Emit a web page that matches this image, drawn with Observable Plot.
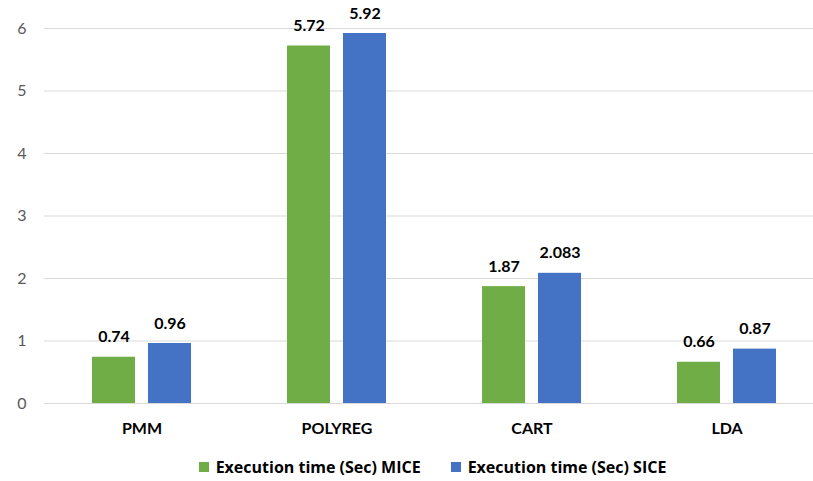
<!DOCTYPE html>
<html>
<head>
<meta charset="utf-8">
<script src="https://cdn.jsdelivr.net/npm/d3@7"></script>
<script src="https://cdn.jsdelivr.net/npm/@observablehq/plot@0.6"></script>
<style>
  html, body { margin: 0; padding: 0; background: #fff; }
  body { width: 813px; height: 481px; overflow: hidden; font-family: Lato, "Open Sans", sans-serif; }
  #legend { display: flex; justify-content: center; gap: 30px; margin-top: 8px; padding-left: 52px; font-family: "Open Sans", sans-serif; font-weight: bold; font-size: 16px; color: #000; }
  #legend .item { display: flex; align-items: center; gap: 7px; }
  #legend .sw { width: 10px; height: 10px; display: inline-block; }
</style>
</head>
<body>
<div id="chart"></div>
<div id="legend"></div>
<script>
const categories = ["PMM", "POLYREG", "CART", "LDA"];
const seriesNames = ["Execution time (Sec) MICE", "Execution time (Sec) SICE"];
const miceValues = [0.74, 5.72, 1.87, 0.66];
const siceValues = [0.96, 5.92, 2.083, 0.87];
const yTicks = [0, 1, 2, 3, 4, 5, 6];
const colors = ["#70AD47", "#4472C4"];

const data = categories.flatMap((c, i) => [
  {cat: c, series: seriesNames[0], value: miceValues[i]},
  {cat: c, series: seriesNames[1], value: siceValues[i]}
]);

const chart = Plot.plot({
  width: 813,
  height: 448,
  marginLeft: 44,
  marginRight: -11,
  marginTop: 28,
  marginBottom: 45,
  style: {fontFamily: "Lato, 'Open Sans', sans-serif", fontSize: "15px", background: "#fff"},
  fx: {domain: categories, padding: 0, label: null, axis: null},
  x: {domain: seriesNames, paddingInner: 0.23, paddingOuter: 0.85, axis: null},
  y: {domain: [0, 6], label: null},
  color: {domain: seriesNames, range: colors},
  marks: [
    Plot.gridY(yTicks, {stroke: "#d9d9d9", strokeOpacity: 1, strokeWidth: 1.2}),
    Plot.axisY(yTicks, {tickSize: 0, tickPadding: 18, tickFormat: d3.format("d"), fill: "#595959", fontSize: 16, label: null}),
    Plot.axisFx({anchor: "bottom", tickSize: 0, tickPadding: 19, fontWeight: "bold", fill: "#000", fontSize: 16, label: null}),
    Plot.barY(data, {fx: "cat", x: "series", y: "value", fill: "series"}),
    Plot.text(data, {fx: "cat", x: "series", y: "value", text: d => String(d.value), dy: -15, lineAnchor: "bottom", fontWeight: "bold", fill: "#000", fontSize: 16})
  ]
});
document.getElementById("chart").appendChild(chart);

const legend = document.getElementById("legend");
seriesNames.forEach((s, i) => {
  const item = document.createElement("div");
  item.className = "item";
  const sw = document.createElement("span");
  sw.className = "sw";
  sw.style.background = colors[i];
  const t = document.createElement("span");
  t.textContent = s;
  item.appendChild(sw);
  item.appendChild(t);
  legend.appendChild(item);
});
</script>
</body>
</html>
